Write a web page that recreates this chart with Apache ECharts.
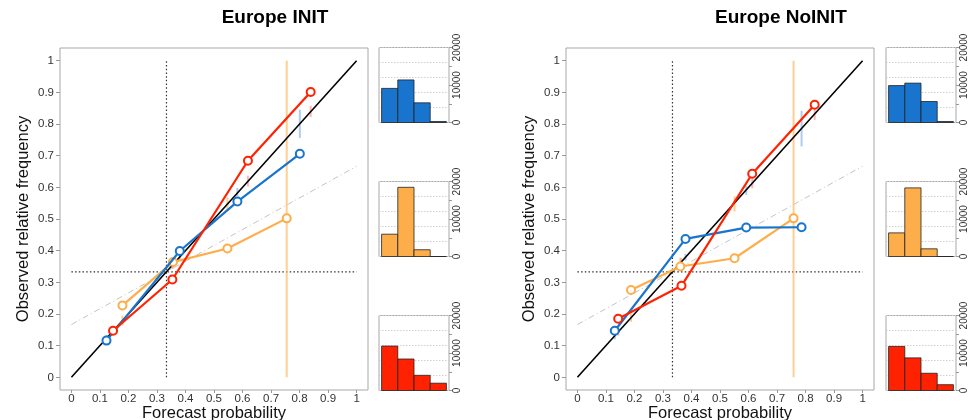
<!DOCTYPE html>
<html><head><meta charset="utf-8">
<script src="https://cdn.jsdelivr.net/npm/echarts@6/dist/echarts.min.js"></script>
<style>html,body{margin:0;padding:0;background:#fff}#c{width:971px;height:420px}</style>
</head><body><div id="c"></div>
<script>
// ---------- data ----------
const panelTitles = ['Europe INIT', 'Europe NoINIT'];
const xAxisName = 'Forecast probability';
const yAxisName = 'Observed relative frequency';
const probTicks = [0, 0.1, 0.2, 0.3, 0.4, 0.5, 0.6, 0.7, 0.8, 0.9, 1];
const histTicks = [0, 5000, 10000, 15000, 20000];
const histLabels = [0, 10000, 20000];
const histBins = [0, 1, 2, 3];
const climatology = 1 / 3;

// Europe INIT reliability points
const initBlueX   = [0.123, 0.380, 0.582, 0.801];
const initBlueY   = [0.116, 0.399, 0.555, 0.706];
const initOrangeX = [0.179, 0.356, 0.547, 0.755];
const initOrangeY = [0.227, 0.364, 0.407, 0.502];
const initRedX    = [0.146, 0.354, 0.619, 0.839];
const initRedY    = [0.147, 0.309, 0.684, 0.901];
// consistency bars [x, low, high]
const initBlueBars   = [[0.123, 0.112, 0.134], [0.380, 0.370, 0.392], [0.582, 0.572, 0.598], [0.801, 0.756, 0.845]];
const initOrangeBars = [[0.179, 0.165, 0.195], [0.356, 0.346, 0.368], [0.547, 0.525, 0.568], [0.755, 0.0, 1.0]];
const initRedBars    = [[0.146, 0.136, 0.157], [0.354, 0.342, 0.366], [0.619, 0.603, 0.637], [0.839, 0.822, 0.858]];
// sample counts
const initBlueHist   = [9100, 11350, 5250, 270];
const initOrangeHist = [5950, 18450, 1800, 0];
const initRedHist    = [11850, 8400, 4050, 1950];

// Europe NoINIT reliability points
const noBlueX   = [0.131, 0.379, 0.592, 0.786];
const noBlueY   = [0.147, 0.437, 0.473, 0.474];
const noOrangeX = [0.188, 0.361, 0.551, 0.758];
const noOrangeY = [0.276, 0.350, 0.376, 0.502];
const noRedX    = [0.143, 0.365, 0.613, 0.832];
const noRedY    = [0.185, 0.289, 0.643, 0.861];
const noBlueBars   = [[0.131, 0.120, 0.143], [0.379, 0.369, 0.390], [0.592, 0.576, 0.605], [0.786, 0.729, 0.842]];
const noOrangeBars = [[0.188, 0.175, 0.200], [0.361, 0.350, 0.378], [0.551, 0.524, 0.571], [0.758, 0.0, 1.0]];
const noRedBars    = [[0.143, 0.132, 0.153], [0.365, 0.355, 0.376], [0.613, 0.597, 0.628], [0.832, 0.813, 0.855]];
const noBlueHist   = [9850, 10500, 5600, 270];
const noOrangeHist = [6300, 18300, 2050, 0];
const noRedHist    = [11750, 8700, 4600, 1550];

// ---------- styling / layout ----------
const FONT = 'Liberation Sans, Arial, Helvetica, sans-serif';
const colBlue = '#1874CD', colOrange = '#FDAE4B', colRed = '#FF2200';
const barBlue = 'rgba(120,170,230,0.6)', barOrange = 'rgba(253,190,110,0.75)', barRed = 'rgba(255,120,120,0.55)';

const panels = [
  { title: panelTitles[0], titleX: 270, mainLeft: 60, histLeft: 379,
    sets: [
      { x: initOrangeX, y: initOrangeY, bars: initOrangeBars, hist: initOrangeHist, col: colOrange, barCol: barOrange },
      { x: initBlueX, y: initBlueY, bars: initBlueBars, hist: initBlueHist, col: colBlue, barCol: barBlue },
      { x: initRedX, y: initRedY, bars: initRedBars, hist: initRedHist, col: colRed, barCol: barRed }
    ] },
  { title: panelTitles[1], titleX: 776, mainLeft: 566, histLeft: 886,
    sets: [
      { x: noOrangeX, y: noOrangeY, bars: noOrangeBars, hist: noOrangeHist, col: colOrange, barCol: barOrange },
      { x: noBlueX, y: noBlueY, bars: noBlueBars, hist: noBlueHist, col: colBlue, barCol: barBlue },
      { x: noRedX, y: noRedY, bars: noRedBars, hist: noRedHist, col: colRed, barCol: barRed }
    ] }
];
// histogram order top->bottom: blue, orange, red
const histOrder = [1, 0, 2];
const histTops = [47.5, 181.5, 315.5];

const grid = [], xAxis = [], yAxis = [], series = [], title = [];

panels.forEach(function (p, pi) {
  title.push({ text: p.title, left: p.titleX, top: 3, textAlign: 'center',
    textStyle: { fontFamily: FONT, fontSize: 19, fontWeight: 'bold', color: '#000' } });

  const gi = grid.length;
  grid.push({ left: p.mainLeft, top: 48, width: 308, height: 342, show: true, outerBoundsMode: 'none',
    borderColor: '#a8a8a8', borderWidth: 1, backgroundColor: 'transparent', containLabel: false });
  const xi = xAxis.length, yi = yAxis.length;
  xAxis.push({ type: 'value', gridIndex: gi, min: -0.04, max: 1.04, position: 'bottom',
    axisLine: { show: false, onZero: false }, splitLine: { show: false },
    axisTick: { show: true, customValues: probTicks, length: 3, lineStyle: { color: '#999' } },
    axisLabel: { customValues: probTicks, fontFamily: FONT, fontSize: 11.5, color: '#333', margin: 3 },
    name: xAxisName, nameLocation: 'middle', nameGap: 15, nameMoveOverlap: false,
    nameTextStyle: { fontFamily: FONT, fontSize: 16.5, color: '#111', verticalAlign: 'top' } });
  yAxis.push({ type: 'value', gridIndex: gi, min: -0.04, max: 1.04, position: 'left',
    axisLine: { show: false, onZero: false }, splitLine: { show: false },
    axisTick: { show: true, customValues: probTicks, length: 4, lineStyle: { color: '#999' } },
    axisLabel: { customValues: probTicks, fontFamily: FONT, fontSize: 11.5, color: '#333', margin: 6 },
    name: yAxisName, nameLocation: 'middle', nameGap: 28, nameMoveOverlap: false,
    nameTextStyle: { fontFamily: FONT, fontSize: 16.5, color: '#111' } });

  // reference lines
  series.push({ type: 'line', xAxisIndex: xi, yAxisIndex: yi, data: [[0, (0 + climatology) / 2], [1, (1 + climatology) / 2]],
    symbol: 'none', silent: true, z: 1, lineStyle: { color: '#c4c4c4', width: 1, type: [6, 3, 1, 3] } });
  series.push({ type: 'line', xAxisIndex: xi, yAxisIndex: yi, data: [[climatology, 0], [climatology, 1]],
    symbol: 'none', silent: true, z: 1, lineStyle: { color: '#333', width: 1.2, type: [1.5, 2.2] } });
  series.push({ type: 'line', xAxisIndex: xi, yAxisIndex: yi, data: [[0, climatology], [1, climatology]],
    symbol: 'none', silent: true, z: 1, lineStyle: { color: '#333', width: 1.2, type: [1.5, 2.2] } });

  // consistency bars
  p.sets.forEach(function (s) {
    series.push({ type: 'custom', xAxisIndex: xi, yAxisIndex: yi, data: s.bars, z: 2, silent: true,
      renderItem: function (params, api) {
        const a = api.coord([api.value(0), api.value(1)]);
        const b = api.coord([api.value(0), api.value(2)]);
        return { type: 'line', shape: { x1: a[0], y1: a[1], x2: b[0], y2: b[1] },
          style: { stroke: s.barCol, lineWidth: 2 } };
      } });
  });

  // diagonal
  series.push({ type: 'line', xAxisIndex: xi, yAxisIndex: yi, data: [[0, 0], [1, 1]],
    symbol: 'none', silent: true, z: 3, lineStyle: { color: '#000', width: 1.6 } });

  // reliability curves
  p.sets.forEach(function (s, k) {
    series.push({ type: 'line', xAxisIndex: xi, yAxisIndex: yi, z: 4 + k,
      data: s.x.map(function (v, i) { return [v, s.y[i]]; }),
      symbol: 'circle', symbolSize: 8, showSymbol: true,
      lineStyle: { color: s.col, width: 2.2 },
      itemStyle: { color: '#fff', borderColor: s.col, borderWidth: 2 } });
  });

  // histograms
  histOrder.forEach(function (k, hi) {
    const s = p.sets[k];
    const g = grid.length;
    grid.push({ left: p.histLeft, top: histTops[hi], width: 70, height: 75, show: true, outerBoundsMode: 'none',
      borderColor: '#a8a8a8', borderWidth: 1, backgroundColor: 'transparent' });
    const hx = xAxis.length;
    xAxis.push({ type: 'value', gridIndex: g, min: -0.16, max: 4.16, show: false });
    const hy = yAxis.length;
    yAxis.push({ type: 'value', gridIndex: g, min: 0, max: 20000, interval: 5000, position: 'right',
      axisLine: { show: false, onZero: false }, splitLine: { show: false },
      axisTick: { show: true, customValues: histTicks, length: 3, lineStyle: { color: '#999' } },
      axisLabel: { customValues: histLabels, rotate: 90, fontFamily: FONT, fontSize: 10, color: '#333', margin: 3,
        formatter: function (v) { return String(v); } } });
    yAxis.push({ type: 'value', gridIndex: g, min: 0, max: 20000, interval: 4000, position: 'left',
      axisLine: { show: false, onZero: false }, axisTick: { show: false }, axisLabel: { show: false },
      splitLine: { show: true, lineStyle: { color: '#d0d0d0', type: [1.5, 1.5], width: 1 } } });
    series.push({ type: 'custom', xAxisIndex: hx, yAxisIndex: hy, z: 3, silent: true,
      data: histBins.map(function (b, i) { return [b, s.hist[i]]; }),
      renderItem: function (params, api) {
        const a = api.coord([api.value(0), api.value(1)]);
        const b = api.coord([api.value(0) + 1, 0]);
        return { type: 'rect', shape: { x: a[0], y: a[1], width: b[0] - a[0], height: b[1] - a[1] },
          style: { fill: s.col, stroke: '#222', lineWidth: 0.8 } };
      } });
  });
});

const chart = echarts.init(document.getElementById('c'), null, { renderer: 'canvas' });
chart.setOption({ animation: false, backgroundColor: '#fff', title: title, grid: grid,
  xAxis: xAxis, yAxis: yAxis, series: series });
</script></body></html>
